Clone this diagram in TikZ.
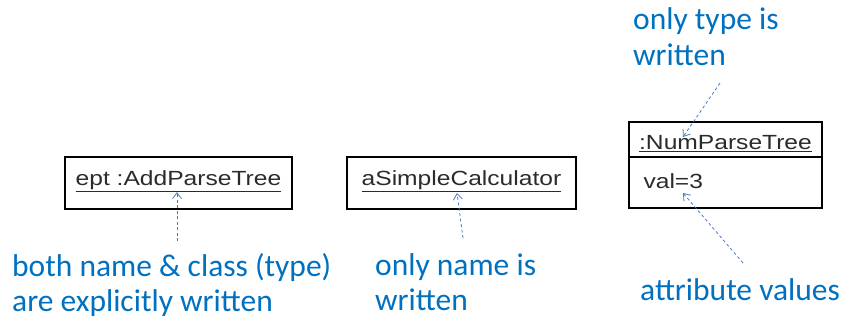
\documentclass[tikz,border=0pt]{standalone}
\usepackage{fontspec}
\setmainfont{Carlito}
\newfontfamily\umlfont[FakeStretch=1.2]{Liberation Sans}
\usetikzlibrary{arrows.meta}
\definecolor{notecol}{HTML}{0070C0}
\definecolor{leadcol}{HTML}{4A78C8}
\definecolor{umltext}{HTML}{2B2B2B}
\tikzset{
  objbox/.style={draw=black, line width=1.1pt, inner sep=0pt, outer sep=0pt},
  objtext/.style={font=\umlfont\fontsize{20.5}{23}\selectfont, text=umltext},
  note/.style={font=\fontsize{31.5}{35}\selectfont, text=notecol, anchor=base west, inner sep=0pt, align=left},
  lead/.style={draw=leadcol, line width=0.8pt, dash pattern=on 3pt off 2.5pt,
    -{Straight Barb[length=6pt, width=9pt, line width=0.8pt]}},
}
\begin{document}
\begin{tikzpicture}[x=1pt, y=-1pt]
\useasboundingbox (0,0) rectangle (846,322);

% object with name and class
\node[objbox, minimum width=227pt, minimum height=52pt] (ept) at (178.5,183) {};
\node[objtext] (eptlbl) at (178.5,181) {\underline{ept :AddParseTree}};

% object with name only
\node[objbox, minimum width=229pt, minimum height=52pt] (calc) at (461.5,183) {};
\node[objtext] (calclbl) at (461.5,181) {\underline{aSimpleCalculator}};

% anonymous object with one attribute compartment
\node[objbox, minimum width=193pt, minimum height=35pt] (npt) at (725.5,139.5) {};
\node[objtext] (nptlbl) at (725.5,144) {\underline{:NumParseTree}};
\node[objbox, minimum width=193pt, minimum height=51pt] (nptattr) at (725.5,182.5) {};
\node[objtext, anchor=base west] (val) at (640,188) {val=3};

% explanatory notes (anchored on the baseline of their last line)
\node[note] (n1) at (12,311) {both name \& class (type)\\[-0.5pt]are explicitly written};
\node[note] (n2) at (375,310) {only name is\\[-0.5pt]written};
\node[note] (n3) at (633,65) {only type is\\[1pt]written};
\node[note] (n4) at (640,300) {attribute values};

% leader arrows
\coordinate (t1) at (177,241);  \coordinate (h1) at (177,192);
\coordinate (t2) at (463,238);  \coordinate (h2) at (457,193);
\coordinate (t3) at (720,83);   \coordinate (h3) at (683,137);
\coordinate (t4) at (743,263);  \coordinate (h4) at (683,193);
\draw[lead] (t1) -- (h1);
\draw[lead] (t2) -- (h2);
\draw[lead] (t3) -- (h3);
\draw[lead] (t4) -- (h4);
\end{tikzpicture}
\end{document}
